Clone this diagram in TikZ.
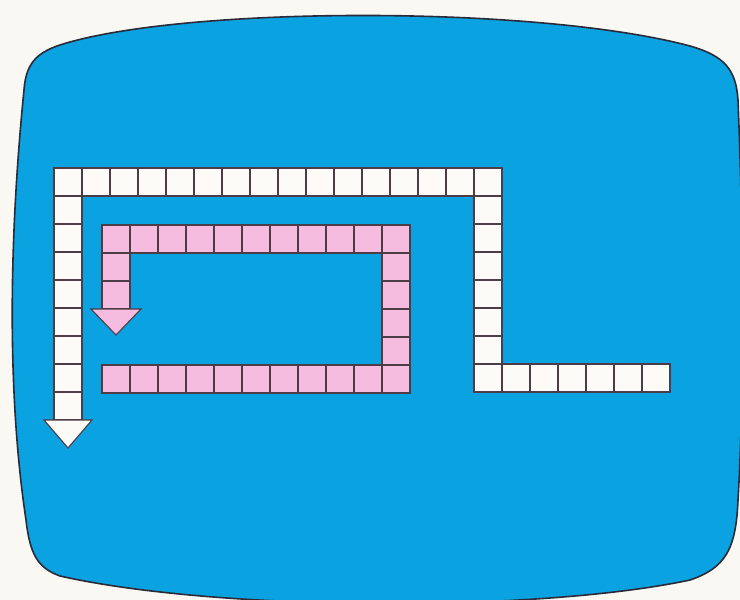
\documentclass[tikz,border=0pt]{standalone}
\usepackage{xcolor}
\definecolor{azulTV}{HTML}{0AA2E0}
\definecolor{rosaCasilla}{HTML}{F6BCE0}
\definecolor{blancoCasilla}{HTML}{FDFBF7}
\definecolor{bordeCasilla}{HTML}{4D3B45}
\definecolor{bordeTV}{HTML}{2A2A38}
\definecolor{fondoPapel}{HTML}{FAF8F2}
\usepackage{tikz}
\usetikzlibrary{calc,positioning}

\begin{document}
\begin{tikzpicture}[x=1pt,y=-1pt,
 cell/.style={draw=bordeCasilla,line width=1.1pt,minimum size=28pt,
 inner sep=0pt,outer sep=0pt,anchor=north west},
 wcell/.style={cell,fill=blancoCasilla},
 pcell/.style={cell,fill=rosaCasilla},
 head/.style={draw=bordeCasilla,line width=1.1pt,line join=miter}]
 \fill[fondoPapel] (0,0) rectangle (740,600);
 \useasboundingbox (0,0) rectangle (740,600);
 % screen
 \draw[fill=azulTV,draw=bordeTV,line width=1.6pt]
 (24,90) .. controls (26,60) and (40,50) .. (70,42)
 .. controls (200,6) and (540,6) .. (690,46)
 .. controls (725,56) and (736,70) .. (738,100)
 .. controls (744,250) and (744,400) .. (738,500)
 .. controls (736,550) and (725,568) .. (690,580)
 .. controls (540,612) and (220,612) .. (60,576)
 .. controls (38,568) and (30,555) .. (26,520)
 .. controls (8,400) and (8,250) .. (24,90) -- cycle;
 % white path
 \foreach \i in {0,...,15} \node[wcell] (wt\i) at (54+28*\i,168) {};
 \foreach \j in {1,...,8} \node[wcell] (wl\j) at (54,168+28*\j) {};
 \foreach \j in {1,...,7} \node[wcell] (wr\j) at (474,168+28*\j) {};
 \foreach \i in {1,...,6} \node[wcell] (wb\i) at (474+28*\i,364) {};
 \draw[head,fill=blancoCasilla] ($(wl8.south)+(-24,0)$) -- ($(wl8.south)+(24,0)$)
 -- ($(wl8.south)+(0,28)$) -- cycle;
 % pink path
 \foreach \i in {0,...,10} \node[pcell] (pt\i) at (102+28*\i,225) {};
 \foreach \j in {1,...,5} \node[pcell] (pr\j) at (382,225+28*\j) {};
 \foreach \i in {0,...,9} \node[pcell] (pb\i) at (102+28*\i,365) {};
 \foreach \j in {1,2} \node[pcell] (pl\j) at (102,225+28*\j) {};
 \draw[head,fill=rosaCasilla] ($(pl2.south)+(-25,0)$) -- ($(pl2.south)+(25,0)$)
 -- ($(pl2.south)+(0,26)$) -- cycle;
\end{tikzpicture}
\end{document}
